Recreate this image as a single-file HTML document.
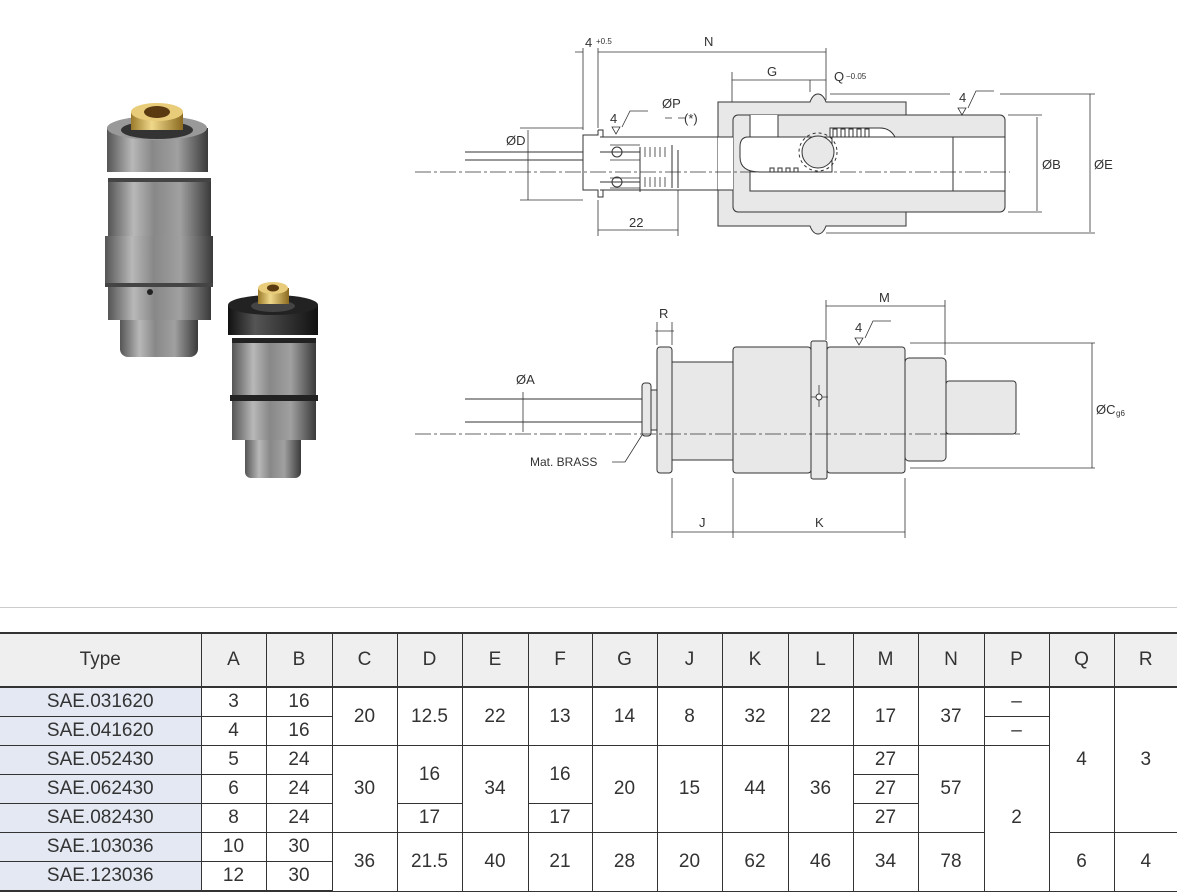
<!DOCTYPE html>
<html><head><meta charset="utf-8"><style>
html,body{margin:0;padding:0;background:#fff;width:1177px;height:892px;overflow:hidden;position:relative;font-family:"Liberation Sans",sans-serif}
svg{position:absolute;left:0;top:0}
table{position:absolute;left:0;top:632px;width:1177px;border-collapse:collapse;table-layout:fixed;color:#333;font-size:19px}
td{border:1px solid #333;text-align:center;padding:0;height:28px;line-height:26px}
tr.h td{background:#efefef;height:52px;border-top:2px solid #333;border-bottom:2px solid #333}
td.t{background:#e3e8f2}
tr:last-child td{border-bottom:2px solid #333}
td:first-child{border-left:none}td:last-child{border-right:none}
.hr{position:absolute;left:0;top:607px;width:1177px;height:1px;background:#ccc}
</style></head><body>
<svg width="1177" height="600" viewBox="0 0 1177 600" font-family="Liberation Sans, sans-serif" font-size="13" fill="none" stroke="#333" stroke-width="1">
<defs>
<linearGradient id="m" x1="0" x2="1"><stop offset="0" stop-color="#555"/><stop offset=".25" stop-color="#b8b8b8"/><stop offset=".45" stop-color="#888"/><stop offset=".7" stop-color="#a0a0a0"/><stop offset="1" stop-color="#3a3a3a"/></linearGradient>
<linearGradient id="k" x1="0" x2="1"><stop offset="0" stop-color="#111"/><stop offset=".3" stop-color="#555"/><stop offset="1" stop-color="#111"/></linearGradient>
<linearGradient id="b" x1="0" x2="1"><stop offset="0" stop-color="#9a7a2a"/><stop offset=".4" stop-color="#f0d88a"/><stop offset="1" stop-color="#8a6a20"/></linearGradient>
</defs>
<g stroke="none">
<rect x="120" y="310" width="78" height="47" rx="8" fill="url(#m)"/>
<rect x="108" y="180" width="103" height="140" fill="url(#m)"/>
<rect x="105" y="236" width="108" height="50" fill="url(#m)"/>
<rect x="105" y="283" width="108" height="4" fill="#444"/>
<rect x="108" y="178" width="103" height="4" fill="#444"/>
<ellipse cx="150" cy="292" rx="3" ry="3" fill="#222"/>
<rect x="107" y="128" width="101" height="44" fill="url(#m)"/>
<ellipse cx="157" cy="128" rx="50" ry="12" fill="#999"/>
<ellipse cx="157" cy="130" rx="36" ry="9" fill="#333"/>
<rect x="131" y="112" width="52" height="18" fill="url(#b)"/>
<ellipse cx="157" cy="112" rx="26" ry="9" fill="#e8cc7a"/>
<ellipse cx="157" cy="112" rx="13" ry="6" fill="#5a3a10"/>
</g>
<g stroke="none">
<rect x="245" y="430" width="56" height="48" rx="6" fill="url(#m)"/>
<rect x="232" y="340" width="84" height="100" fill="url(#m)"/>
<rect x="230" y="395" width="88" height="6" fill="#222"/>
<rect x="232" y="338" width="84" height="5" fill="#222"/>
<rect x="228" y="305" width="90" height="30" fill="url(#k)"/>
<ellipse cx="273" cy="305" rx="45" ry="10" fill="#222"/>
<ellipse cx="273" cy="306" rx="22" ry="6" fill="#444"/>
<rect x="258" y="288" width="31" height="16" fill="url(#b)"/>
<ellipse cx="273" cy="288" rx="15" ry="6" fill="#e8cc7a"/>
<ellipse cx="273" cy="288" rx="6" ry="3.5" fill="#5a3a10"/>
</g>
<g fill="#e8e8e8" stroke="#333">
<path d="M718,102 H810 q3,-8 8,-8 q5,0 8,8 H906 V226 H826 q-3,8 -8,8 q-5,0 -8,-8 H718 Z"/>
<rect x="733" y="115" width="272" height="97" rx="5"/>
</g>
<path d="M750,137 H1005 V191 H750 Z" fill="#fff" stroke="#333"/>
<path d="M750,115 V137 H778 V115" fill="#fff"/>
<path d="M748,137 q-8,0 -8,10 v10 q0,15 20,15 H832 V137 Z" fill="#fff"/>
<path d="M830,128 h50 q10,0 15,9 H830 Z" fill="#fff"/>
<path d="M833,137 v-8 h4 v8 h4 v-8 h4 v8 h4 v-8 h4 v8 h4 v-8 h4 v8 h4 v-8 h4 v8 M770,172 v-4 h4 v4 h4 v-4 h4 v4 h4 v-4 h4 v4 h4 v-4 h4 v4"/>
<circle cx="818" cy="152" r="16" fill="#e8e8e8"/>
<circle cx="818" cy="152" r="19" stroke-dasharray="3 3"/>
<line x1="953" y1="137" x2="953" y2="191"/>
<path d="M600,137 H718 M600,190 H718" />
<rect x="718" y="137" width="15" height="53" fill="#fff" stroke="none"/>
<path d="M718,126 V137 H733 M718,190 H733 V200"/>
<path d="M598,130 h5 v7 M598,130 v5 h-15 v55 h15 v7 h5 v-7 M600,152 h40 M600,182 h40 M640,147 v45 M672,145 v43 M678,150 v38"/>
<path d="M610,145 h30 M610,160 h30 M610,178 h30 M610,188 h30" stroke-width=".8"/>
<circle cx="617" cy="152" r="5"/><circle cx="617" cy="182" r="5"/>
<path d="M645,147 v10 M650,147 v10 M655,147 v10 M660,147 v10 M665,147 v10 M645,177 v10 M650,177 v10 M655,177 v10 M660,177 v10 M665,177 v10" stroke-width=".8"/>
<path d="M415,172 H1010" stroke-dasharray="16 3 3 3" stroke-width=".8"/>
<path d="M465,152 H583 M465,160 H583"/>
<path d="M583,48 V130 M598,48 V128 M826,48 V100 M732,72 V102 M810,80 V92 M678,190 V236 M598,200 V236 M520,128 H583 M520,200 H583" stroke-width=".8"/>
<path d="M575,52 H583 M598,52 H826 M732,80 H810 M810,80 H826 M598,230 H678 M528,130 V200 M1037,117 V211 M1090,94 V232 M1008,115 H1042 M1008,212 H1042 M830,94 H950 M1000,94 H1095 M826,233 H1095 M665,118 H672 M678,118 H685" stroke-width=".8"/>
<g fill="#333" stroke="none">
<text x="585" y="47">4</text><text x="596" y="44" font-size="8">+0.5</text>
<text x="704" y="46">N</text>
<text x="767" y="76">G</text>
<text x="834" y="81">Q</text><text x="846" y="79" font-size="8">−0.05</text>
<text x="662" y="108">ØP</text><text x="684" y="123">(*)</text>
<text x="506" y="145">ØD</text>
<text x="629" y="227">22</text>
<text x="1042" y="169">ØB</text>
<text x="1094" y="169">ØE</text>
<text x="610" y="123">4</text><text x="959" y="102">4</text><text x="855" y="332">4</text>
</g>
<path d="M612,127 l4,7 l4,-7 z M622,127 l8,-16 h18 M958,108 l4,7 l4,-7 z M968,108 l8,-17 h18 M855,338 l4,7 l4,-7 z M865,338 l8,-17 h18" stroke-width=".8"/>
<g fill="#e8e8e8" stroke="#333">
<rect x="946" y="381" width="70" height="53" rx="3"/>
<rect x="905" y="358" width="41" height="103" rx="4"/>
<rect x="672" y="362" width="62" height="98"/>
<rect x="733" y="347" width="78" height="126" rx="3"/>
<rect x="827" y="347" width="78" height="126" rx="3"/>
<rect x="811" y="341" width="16" height="138" rx="2"/>
<rect x="650" y="390" width="8" height="40"/>
<rect x="642" y="383" width="9" height="53" rx="3"/>
<rect x="657" y="347" width="15" height="126" rx="3"/>
</g>
<path d="M811,397 h17 M819,385 v22" stroke-width=".8"/><circle cx="819" cy="397" r="3" fill="#fff"/>
<path d="M415,434 H1020" stroke-dasharray="16 3 3 3" stroke-width=".8"/>
<path d="M465,399 H642 M465,422 H642"/>
<path d="M523,392 V432 M612,462 H625 l17,-27" stroke-width=".8"/>
<path d="M657,322 V345 M672,322 V345 M655,331 H674 M826,300 V340 M945,300 V355 M826,306 H945 M672,478 V538 M733,478 V538 M905,478 V538 M672,532 H905 M910,343 H1095 M910,468 H1095 M1092,343 V468" stroke-width=".8"/>
<g fill="#333" stroke="none">
<text x="659" y="318">R</text>
<text x="879" y="302">M</text>
<text x="516" y="384">ØA</text>
<text x="530" y="466" font-size="12">Mat. BRASS</text>
<text x="699" y="527">J</text>
<text x="815" y="527">K</text>
<text x="1096" y="414">ØC</text><text x="1116" y="416" font-size="8">g6</text>
</g>
</svg>
<div class="hr"></div>
<table>
<colgroup><col style="width:201px"><col style="width:65px"><col style="width:66px"><col style="width:65px"><col style="width:65px"><col style="width:66px"><col style="width:64px"><col style="width:65px"><col style="width:65px"><col style="width:66px"><col style="width:65px"><col style="width:65px"><col style="width:66px"><col style="width:65px"><col style="width:65px"><col style="width:63px"></colgroup>
<tr class="h"><td>Type</td><td>A</td><td>B</td><td>C</td><td>D</td><td>E</td><td>F</td><td>G</td><td>J</td><td>K</td><td>L</td><td>M</td><td>N</td><td>P</td><td>Q</td><td>R</td></tr>
<tr><td class="t">SAE.031620</td><td>3</td><td>16</td><td rowspan="2">20</td><td rowspan="2">12.5</td><td rowspan="2">22</td><td rowspan="2">13</td><td rowspan="2">14</td><td rowspan="2">8</td><td rowspan="2">32</td><td rowspan="2">22</td><td rowspan="2">17</td><td rowspan="2">37</td><td>–</td><td rowspan="5">4</td><td rowspan="5">3</td></tr>
<tr><td class="t">SAE.041620</td><td>4</td><td>16</td><td>–</td></tr>
<tr><td class="t">SAE.052430</td><td>5</td><td>24</td><td rowspan="3">30</td><td rowspan="2">16</td><td rowspan="3">34</td><td rowspan="2">16</td><td rowspan="3">20</td><td rowspan="3">15</td><td rowspan="3">44</td><td rowspan="3">36</td><td>27</td><td rowspan="3">57</td><td rowspan="5">2</td></tr>
<tr><td class="t">SAE.062430</td><td>6</td><td>24</td><td>27</td></tr>
<tr><td class="t">SAE.082430</td><td>8</td><td>24</td><td>17</td><td>17</td><td>27</td></tr>
<tr><td class="t">SAE.103036</td><td>10</td><td>30</td><td rowspan="2">36</td><td rowspan="2">21.5</td><td rowspan="2">40</td><td rowspan="2">21</td><td rowspan="2">28</td><td rowspan="2">20</td><td rowspan="2">62</td><td rowspan="2">46</td><td rowspan="2">34</td><td rowspan="2">78</td><td rowspan="2">6</td><td rowspan="2">4</td></tr>
<tr><td class="t">SAE.123036</td><td>12</td><td>30</td></tr>
</table>
</body></html>
